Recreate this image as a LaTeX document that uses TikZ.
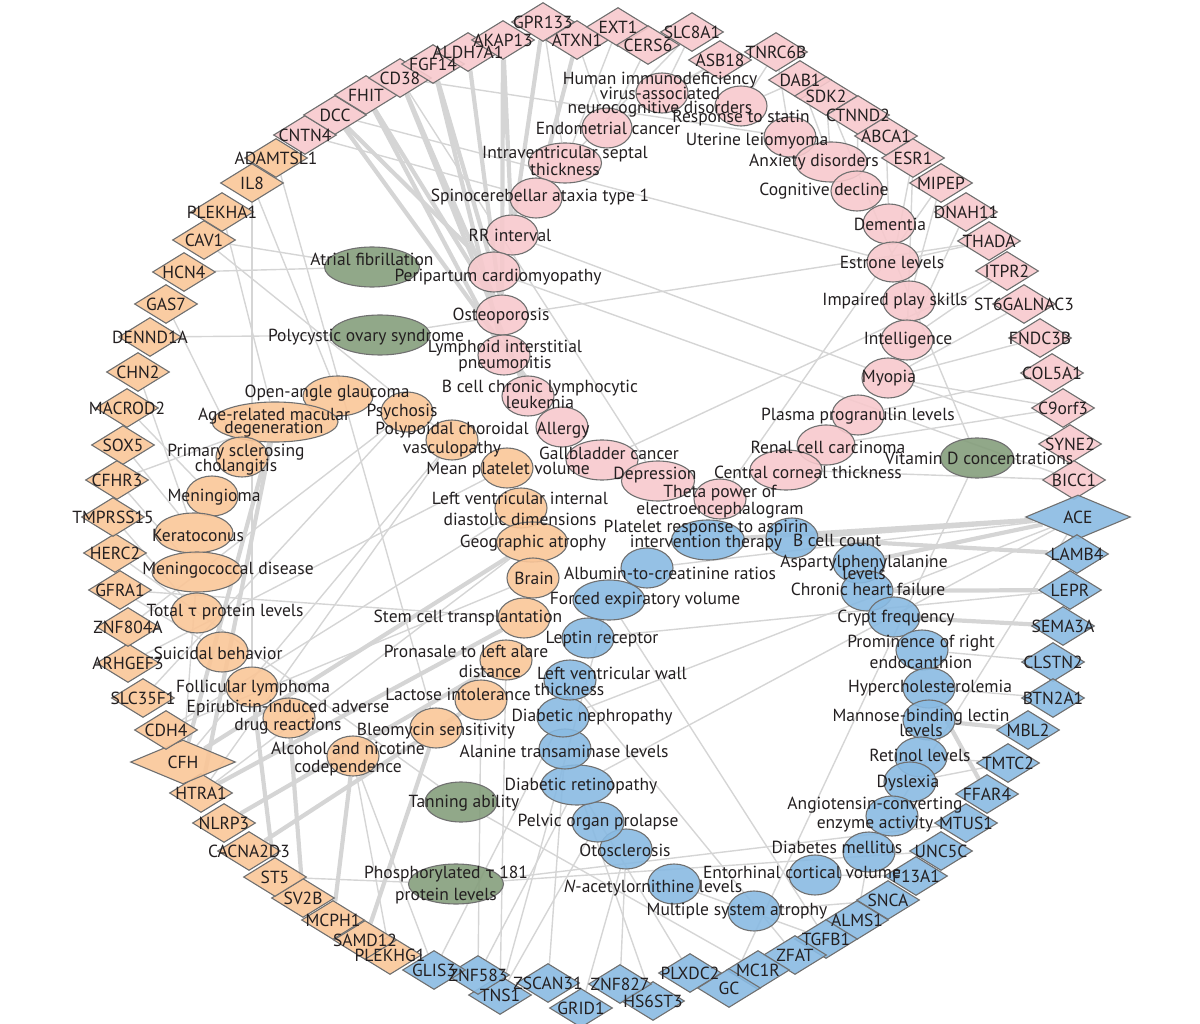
\documentclass[tikz,border=0pt]{standalone}
\usepackage{fontspec}
\setmainfont{PT Sans}
\newfontfamily\grk{DejaVu Sans}
\usetikzlibrary{shapes.geometric}
\definecolor{pk}{RGB}{247,201,205}
\definecolor{org}{RGB}{250,198,152}
\definecolor{blu}{RGB}{137,186,226}
\definecolor{grn}{RGB}{133,158,124}
\definecolor{bord}{RGB}{112,112,112}
\definecolor{edg}{RGB}{213,213,213}
\definecolor{txt}{RGB}{35,31,32}
\pgfdeclarelayer{bg}\pgfdeclarelayer{fg}\pgfsetlayers{bg,main,fg}
\newcommand\tauc{{\grk\fontsize{15.5}{17}\selectfont τ}}
\tikzset{
  gene/.style={diamond,draw=bord,line width=1.1pt,minimum width=63,minimum height=39,inner sep=0,fill opacity=.9},
  biggene/.style={gene,minimum width=105,minimum height=44},
  dis/.style={ellipse,draw=bord,line width=1.1pt,minimum height=40,inner sep=0,fill opacity=.9},
  lbl/.style={text=txt,font=\fontsize{17.5}{17}\selectfont,align=center,inner sep=0},
  ed/.style={draw=edg,line width=1.4pt},
  thk/.style={draw=edg,line width=4.2pt}
}
\newcommand\gnode[5]{%
  \node[gene,fill=#4] (#1) at (#2,#3) {};
  \begin{pgfonlayer}{fg}\node[lbl] (#1-t) at (#2,#3) {#5};\end{pgfonlayer}}
\newcommand\bgnode[5]{%
  \node[biggene,fill=#4] (#1) at (#2,#3) {};
  \begin{pgfonlayer}{fg}\node[lbl] (#1-t) at (#2,#3) {#5};\end{pgfonlayer}}
\newcommand\dnode[8]{%
  \node[dis,fill=#5,minimum width=#4] (#1) at (#2,#3) {};
  \begin{pgfonlayer}{fg}\node[lbl] (#1-t) at (#6,#7) {#8};\end{pgfonlayer}}
\begin{document}
\begin{tikzpicture}[x=1pt,y=-1pt]
\useasboundingbox (0,0) rectangle (1200,1024);
% ---------- pink genes
\gnode{CNTN4}{305}{135}{pk}{CNTN4}
\gnode{DCC}{335}{115}{pk}{DCC}
\gnode{FHIT}{366}{95}{pk}{FHIT}
\gnode{CD38}{400}{78}{pk}{CD38}
\gnode{FGF14}{433}{64}{pk}{FGF14}
\gnode{ALDH7A1}{468}{52}{pk}{ALDH7A1}
\gnode{AKAP13}{503}{40}{pk}{AKAP13}
\gnode{GPR133}{543}{22}{pk}{GPR133}
\gnode{ATXN1}{577}{40}{pk}{ATXN1}
\gnode{EXT1}{618}{27}{pk}{EXT1}
\gnode{CERS6}{648}{45}{pk}{CERS6}
\gnode{SLC8A1}{692}{32}{pk}{SLC8A1}
\gnode{ASB18}{720}{60}{pk}{ASB18}
\gnode{TNRC6B}{776}{52}{pk}{TNRC6B}
\gnode{DAB1}{800}{80}{pk}{DAB1}
\gnode{SDK2}{826}{96}{pk}{SDK2}
\gnode{CTNND2}{858}{115}{pk}{CTNND2}
\gnode{ABCA1}{886}{136}{pk}{ABCA1}
\gnode{ESR1}{913}{158}{pk}{ESR1}
\gnode{MIPEP}{941}{183}{pk}{MIPEP}
\gnode{DNAH11}{966}{212}{pk}{DNAH11}
\gnode{THADA}{989}{241}{pk}{THADA}
\gnode{ITPR2}{1007}{271}{pk}{ITPR2}
\gnode{ST6GALNAC3}{1024}{304}{pk}{ST6GALNAC3}
\gnode{FNDC3B}{1040}{338}{pk}{FNDC3B}
\gnode{COL5A1}{1052}{373}{pk}{COL5A1}
\gnode{C9orf3}{1063}{408}{pk}{C9orf3}
\gnode{SYNE2}{1070}{444}{pk}{SYNE2}
\gnode{BICC1}{1074}{480}{pk}{BICC1}
% ---------- blue genes
\bgnode{ACE}{1078}{517}{blu}{ACE}
\gnode{LAMB4}{1077}{554}{blu}{LAMB4}
\gnode{LEPR}{1070}{590}{blu}{LEPR}
\gnode{SEMA3A}{1063}{626}{blu}{SEMA3A}
\gnode{CLSTN2}{1053}{662}{blu}{CLSTN2}
\gnode{BTN2A1}{1053}{698}{blu}{BTN2A1}
\gnode{MBL2}{1028}{730}{blu}{MBL2}
\gnode{TMTC2}{1008}{763}{blu}{TMTC2}
\gnode{FFAR4}{987}{794}{blu}{FFAR4}
\gnode{MTUS1}{966}{823}{blu}{MTUS1}
\gnode{UNC5C}{941}{851}{blu}{UNC5C}
\gnode{F13A1}{916}{876}{blu}{F13A1}
\gnode{SNCA}{888}{900}{blu}{SNCA}
\gnode{ALMS1}{857}{920}{blu}{ALMS1}
\gnode{TGFB1}{826}{939}{blu}{TGFB1}
\gnode{ZFAT}{795}{955}{blu}{ZFAT}
\gnode{MC1R}{758}{970}{blu}{MC1R}
\gnode{GC}{729}{988}{blu}{GC}
\gnode{PLXDC2}{690}{973}{blu}{PLXDC2}
\gnode{HS6ST3}{653}{1001}{blu}{HS6ST3}
\gnode{ZNF827}{620}{984}{blu}{ZNF827}
\gnode{GRID1}{581}{1008}{blu}{GRID1}
\gnode{ZSCAN31}{548}{983}{blu}{ZSCAN31}
\gnode{TNS1}{500}{995}{blu}{TNS1}
\gnode{ZNF583}{478}{975}{blu}{ZNF583}
\gnode{GLIS3}{434}{970}{blu}{GLIS3}
% ---------- orange genes
\gnode{PLEKHG1}{390}{955}{org}{PLEKHG1}
\gnode{SAMD12}{365}{940}{org}{SAMD12}
\gnode{MCPH1}{333}{920}{org}{MCPH1}
\gnode{SV2B}{303}{898}{org}{SV2B}
\gnode{ST5}{275}{877}{org}{ST5}
\gnode{CACNA2D3}{249}{851}{org}{CACNA2D3}
\gnode{NLRP3}{224}{823}{org}{NLRP3}
\gnode{HTRA1}{201}{793}{org}{HTRA1}
\bgnode{CFH}{183}{762}{org}{CFH}
\gnode{CDH4}{166}{730}{org}{CDH4}
\gnode{SLC35F1}{143}{698}{org}{SLC35F1}
\gnode{ARHGEF3}{128}{663}{org}{ARHGEF3}
\gnode{ZNF804A}{128}{627}{org}{ZNF804A}
\gnode{GFRA1}{120}{590}{org}{GFRA1}
\gnode{HERC2}{115}{553}{org}{HERC2}
\gnode{TMPRSS15}{113}{517}{org}{TMPRSS15}
\gnode{CFHR3}{117}{480}{org}{CFHR3}
\gnode{SOX5}{123}{445}{org}{SOX5}
\gnode{MACROD2}{127}{408}{org}{MACROD2}
\gnode{CHN2}{138}{372}{org}{CHN2}
\gnode{DENND1A}{150}{337}{org}{DENND1A}
\gnode{GAS7}{166}{304}{org}{GAS7}
\gnode{HCN4}{184}{272}{org}{HCN4}
\gnode{CAV1}{204}{240}{org}{CAV1}
\gnode{PLEKHA1}{222}{212}{org}{PLEKHA1}
\gnode{IL8}{252}{183}{org}{IL8}
\gnode{ADAMTSL1}{276}{158}{org}{ADAMTSL1}
% ---------- pink traits
\dnode{hiv}{662}{93}{52}{pk}{660}{95}{Human immunodeficiency\\[-2.5pt]virus-associated\\[-2.5pt]neurocognitive disorders}
\dnode{statin}{741}{106}{52}{pk}{741}{118}{Response to statin}
\dnode{endo}{607}{128}{50}{pk}{608}{128}{Endometrial cancer}
\dnode{uterine}{790}{137}{52}{pk}{757}{141}{Uterine leiomyoma}
\dnode{anxiety}{831}{162}{72}{pk}{814}{162}{Anxiety disorders}
\dnode{cogn}{857}{191}{52}{pk}{824}{191}{Cognitive decline}
\dnode{ivs}{565}{163}{73}{pk}{565}{161}{Intraventricular septal\\thickness}
\dnode{sca}{536}{198}{52}{pk}{540}{197}{Spinocerebellar ataxia type 1}
\dnode{dementia}{889}{224}{52}{pk}{890}{224}{Dementia}
\dnode{rr}{512}{235}{52}{pk}{510}{235}{RR interval}
\dnode{estrone}{893}{262}{52}{pk}{892}{262}{Estrone levels}
\dnode{peri}{494}{272}{52}{pk}{498}{277}{Peripartum cardiomyopathy}
\dnode{play}{909}{301}{52}{pk}{895}{301}{Impaired play skills}
\dnode{osteo}{502}{315}{52}{pk}{501}{316}{Osteoporosis}
\dnode{intel}{907}{340}{52}{pk}{908}{340}{Intelligence}
\dnode{lip}{504}{355}{52}{pk}{505}{356}{Lymphoid interstitial\\[-1pt]pneumonitis}
\dnode{myopia}{888}{378}{52}{pk}{889}{378}{Myopia}
\dnode{bcll}{528}{396}{52}{pk}{540}{394}{B cell chronic lymphocytic\\[-1pt]leukemia}
\dnode{progran}{858}{415}{52}{pk}{858}{416}{Plasma progranulin levels}
\dnode{allergy}{562}{427}{52}{pk}{563}{430}{Allergy}
\dnode{renal}{826}{445}{58}{pk}{828}{447}{Renal cell carcinoma}
\dnode{gall}{602}{460}{72}{pk}{609}{453}{Gallbladder cancer}
\dnode{depr}{658}{481}{73}{pk}{655}{475}{Depression}
\dnode{cct}{786}{470}{72}{pk}{808}{472}{Central corneal thickness}
\dnode{theta}{720}{499}{52}{pk}{720}{502}{Theta power of\\electroencephalogram}
% ---------- green traits
\dnode{af}{372}{267}{95}{grn}{372}{259}{Atrial fibrillation}
\dnode{pcos}{380}{335}{100}{grn}{366}{337}{Polycystic ovary syndrome}
\dnode{vitd}{977}{458}{73}{grn}{979}{458}{Vitamin D concentrations}
\dnode{tan}{461}{802}{72}{grn}{464}{803}{Tanning ability}
\dnode{ptau}{456}{884}{95}{grn}{446}{885}{Phosphorylated \tauc\ 181\\[5pt]protein levels}
% ---------- orange traits
\dnode{oag}{338}{396}{70}{org}{327}{393}{Open-angle glaucoma}
\dnode{amd}{275}{422}{126}{org}{274}{423}{Age-related macular\\[-4pt]degeneration}
\dnode{psych}{407}{412}{52}{org}{402}{412}{Psychosis}
\dnode{pcv}{452}{440}{52}{org}{452}{440}{Polypoidal choroidal\\[2pt]vasculopathy}
\dnode{psc}{242}{457}{52}{org}{236}{460}{Primary sclerosing\\[-2pt]cholangitis}
\dnode{mpv}{507}{468}{52}{org}{508}{470}{Mean platelet volume}
\dnode{mening}{212}{496}{52}{org}{214}{497}{Meningioma}
\dnode{lvidd}{521}{508}{52}{org}{520}{509}{Left ventricular internal\\[4pt]diastolic dimensions}
\dnode{kerat}{194}{533}{78}{org}{198}{535}{Keratoconus}
\dnode{ga}{532}{542}{71}{org}{533}{543}{Geographic atrophy}
\dnode{mcd}{197}{572}{90}{org}{228}{570}{Meningococcal disease}
\dnode{brain}{533}{578}{52}{org}{534}{578}{Brain}
\dnode{ttau}{197}{613}{52}{org}{225}{612}{Total \tauc\ protein levels}
\dnode{stem}{524}{618}{52}{org}{468}{618}{Stem cell transplantation}
\dnode{suic}{222}{652}{52}{org}{218}{653}{Suicidal behavior}
\dnode{pron}{506}{660}{52}{org}{466}{661}{Pronasale to left alare\\[3pt]\hspace*{48pt}distance}
\dnode{foll}{252}{687}{52}{org}{253}{688}{Follicular lymphoma}
\dnode{lact}{481}{700}{52}{org}{458}{694}{Lactose intolerance}
\dnode{epir}{289}{718}{52}{org}{288}{717}{Epirubicin-induced adverse\\[1pt]drug reactions}
\dnode{bleo}{436}{728}{52}{org}{436}{731}{Bleomycin sensitivity}
\dnode{alc}{353}{756}{52}{org}{348}{759}{Alcohol and nicotine\\[1pt]codependence}
% ---------- blue traits
\dnode{plat}{708}{540}{73}{blu}{706}{536}{Platelet response to aspirin\\[-2pt]intervention therapy}
\dnode{bcc}{792}{538}{52}{blu}{837}{540}{B cell count}
\dnode{asp}{859}{563}{52}{blu}{864}{567}{Aspartylphenylalanine\\[-5pt]levels}
\dnode{chf}{867}{591}{52}{blu}{868}{589}{Chronic heart failure}
\dnode{crypt}{894}{617}{52}{blu}{896}{618}{Crypt frequency}
\dnode{prom}{922}{650}{52}{blu}{921}{652}{Prominence of right\\[4pt]endocanthion}
\dnode{hyper}{929}{688}{52}{blu}{930}{688}{Hypercholesterolemia}
\dnode{mbl}{929}{720}{52}{blu}{921}{723}{Mannose-binding lectin\\[-2pt]levels}
\dnode{retinol}{921}{757}{52}{blu}{920}{755}{Retinol levels}
\dnode{dys}{910}{782}{52}{blu}{908}{783}{Dyslexia}
\dnode{aceact}{892}{816}{52}{blu}{875}{815}{Angiotensin-converting\\[2pt]enzyme activity}
\dnode{dm}{869}{852}{52}{blu}{837}{847}{Diabetes mellitus}
\dnode{ento}{815}{875}{52}{blu}{802}{872}{Entorhinal cortical volume}
\dnode{msa}{754}{911}{52}{blu}{737}{911}{Multiple system atrophy}
\dnode{nac}{674}{884}{52}{blu}{653}{888}{\textit{N}-acetylornithine levels}
\dnode{oto}{626}{849}{52}{blu}{625}{850}{Otosclerosis}
\dnode{pop}{598}{822}{52}{blu}{598}{822}{Pelvic organ prolapse}
\dnode{dr}{577}{785}{72}{blu}{581}{786}{Diabetic retinopathy}
\dnode{alt}{565}{749}{52}{blu}{564}{751}{Alanine transaminase levels}
\dnode{dn}{563}{717}{52}{blu}{592}{717}{Diabetic nephropathy}
\dnode{lvwt}{570}{680}{52}{blu}{612}{681}{Left ventricular wall\\[-1pt]thickness\hspace*{85pt}}
\dnode{leptr}{588}{638}{52}{blu}{602}{639}{Leptin receptor}
\dnode{fev}{609}{600}{72}{blu}{645}{600}{Forced expiratory volume}
\dnode{acr}{647}{568}{52}{blu}{670}{573}{Albumin-to-creatinine ratios}
% ---------- connectors
\begin{pgfonlayer}{bg}
\foreach \a/\b in {FHIT/osteo,FHIT/lip,DCC/peri,DCC/allergy,CD38/osteo,CD38/bcll,FGF14/peri,FGF14/lip,
  ALDH7A1/osteo,AKAP13/osteo,AKAP13/rr,GPR133/rr,ATXN1/sca,
  ACE/bcc,ACE/plat,ACE/asp,LAMB4/bcc,LEPR/chf,SEMA3A/crypt,MBL2/mbl,FFAR4/hyper,
  CFH/amd,CFH/ga,HTRA1/amd,HTRA1/stem,NLRP3/pron,CACNA2D3/lact,ST5/foll,SV2B/epir,MCPH1/alc,SAMD12/bleo}
  {\draw[thk] (\a) -- (\b);}
\foreach \a/\b in {EXT1/ivs,CERS6/endo,SLC8A1/ivs,SLC8A1/hiv,ASB18/hiv,ASB18/endo,TNRC6B/uterine,TNRC6B/statin,
  DAB1/statin,DAB1/anxiety,SDK2/anxiety,SDK2/vitd,CTNND2/cogn,ABCA1/dementia,ESR1/intel,ESR1/estrone,
  MIPEP/play,MIPEP/theta,DNAH11/intel,THADA/pcos,THADA/estrone,ITPR2/gall,ITPR2/intel,ST6GALNAC3/myopia,
  FNDC3B/myopia,COL5A1/progran,C9orf3/myopia,C9orf3/renal,SYNE2/rr,BICC1/cct,BICC1/peri,CD38/uterine,
  CD38/depr,CNTN4/sca,GPR133/ivs,ATXN1/endo,DCC/estrone,
  CAV1/af,HCN4/af,DENND1A/pcos,GAS7/psc,CAV1/pcv,PLEKHA1/amd,IL8/oag,IL8/foll,ADAMTSL1/bleo,
  CHN2/kerat,MACROD2/mening,SOX5/kerat,CFHR3/mcd,CFHR3/amd,TMPRSS15/ttau,HERC2/tan,GFRA1/suic,GFRA1/stem,
  ZNF804A/psych,ARHGEF3/mpv,SLC35F1/psych,CDH4/lvidd,CDH4/brain,CFH/mcd,CFH/pcv,HTRA1/pcv,HTRA1/ga,
  ST5/ptau,PLEKHG1/alc,
  ACE/aceact,ACE/dn,ACE/acr,ACE/dr,LEPR/leptr,CLSTN2/prom,BTN2A1/hyper,TMTC2/retinol,TMTC2/dys,
  MTUS1/ptau,UNC5C/ptau,F13A1/ento,ALMS1/dm,SNCA/msa,TGFB1/nac,TGFB1/fev,ZFAT/lvwt,MC1R/tan,GC/vitd,
  PLXDC2/dr,HS6ST3/dr,ZNF827/oto,GRID1/oto,ZSCAN31/alt,TNS1/pop,TNS1/fev,ZNF583/dr,ZNF583/lact,
  GLIS3/dn,GLIS3/alc,TNS1/pron}
  {\draw[ed] (\a) -- (\b);}
\end{pgfonlayer}
\end{tikzpicture}
\end{document}
